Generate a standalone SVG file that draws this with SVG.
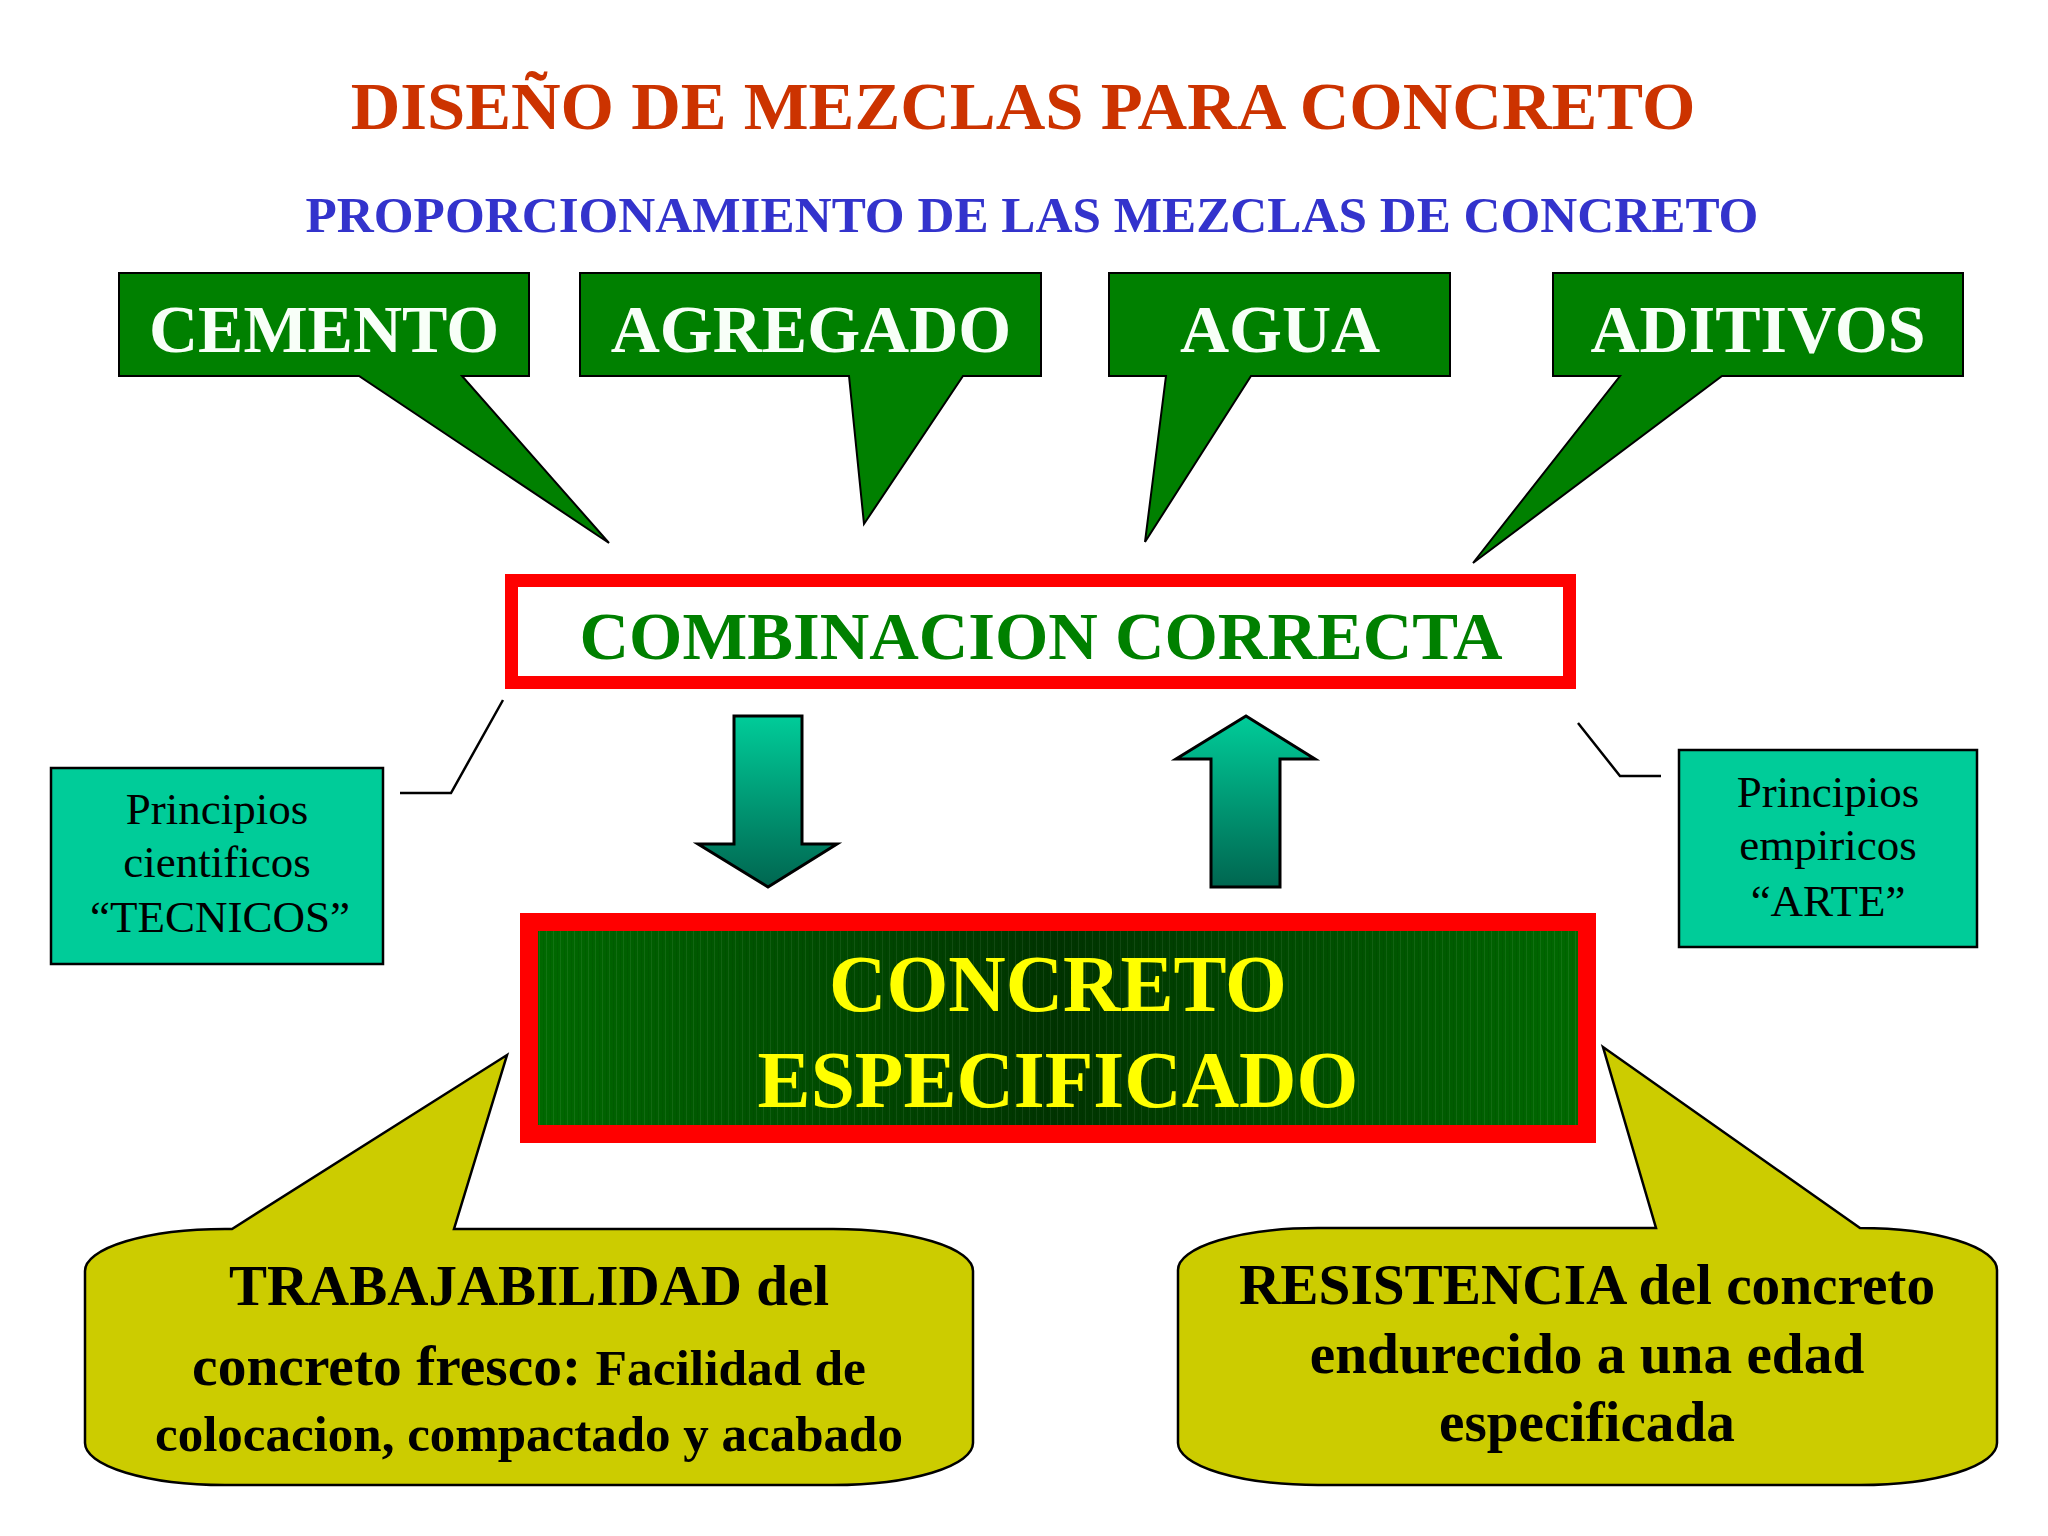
<svg xmlns="http://www.w3.org/2000/svg" width="2048" height="1536" viewBox="0 0 2048 1536">
<defs>
<style>
.serif{font-family:"Liberation Serif","Times New Roman",serif;}
.b{font-weight:bold;}
.gbox{fill:#008000;stroke:#000;stroke-width:2;stroke-linejoin:miter;}
.gtxt{fill:#f8fff8;font-size:68px;text-anchor:middle;}
.teal{fill:#00cc99;stroke:#000;stroke-width:2.5;}
.ttxt{fill:#000;font-size:45px;text-anchor:middle;}
.ybox{fill:#cccc00;stroke:#000;stroke-width:2.5;}
.ytxt{fill:#000;text-anchor:middle;}
.conn{fill:none;stroke:#000;stroke-width:2.5;}
.arrow{fill:url(#arrGrad);stroke:#000;stroke-width:3;stroke-linejoin:miter;}
</style>
<linearGradient id="arrGrad" x1="0" y1="0" x2="0" y2="1">
<stop offset="0" stop-color="#00cc99"/>
<stop offset="1" stop-color="#006650"/>
</linearGradient>
<linearGradient id="concGrad" x1="0" y1="0" x2="1" y2="0">
<stop offset="0" stop-color="#006a00"/>
<stop offset="0.5" stop-color="#003300"/>
<stop offset="1" stop-color="#006a00"/>
</linearGradient>
<pattern id="stripes" width="7" height="10" patternUnits="userSpaceOnUse">
<rect x="0" y="0" width="1" height="10" fill="#ffffff" fill-opacity="0.07"/>
<rect x="4" y="0" width="1" height="10" fill="#000000" fill-opacity="0.06"/>
</pattern>
</defs>
<rect width="2048" height="1536" fill="#ffffff"/>

<g id="title">
<text class="serif b" x="1023" y="129" font-size="68.7" fill="#cc3300" text-anchor="middle">DISEÑO DE MEZCLAS PARA CONCRETO</text>
<text class="serif b" x="1032" y="232" font-size="51.2" fill="#3333cc" text-anchor="middle">PROPORCIONAMIENTO DE LAS MEZCLAS DE CONCRETO</text>
</g>

<g id="connectors">
<polyline class="conn" points="503,700 451,793 400,793"/>
<polyline class="conn" points="1578,723 1620,776 1661,776"/>
</g>

<g id="cemento">
<path class="gbox" d="M119,273 H529 V376 H462 L609,543 L359,376 H119 Z"/>
<text class="serif b gtxt" x="324" y="352">CEMENTO</text>
</g>
<g id="agregado">
<path class="gbox" d="M580,273 H1041 V376 H963 L864,524 L849,376 H580 Z"/>
<text class="serif b gtxt" x="811" y="352">AGREGADO</text>
</g>
<g id="agua">
<path class="gbox" d="M1109,273 H1450 V376 H1251 L1145,542 L1166,376 H1109 Z"/>
<text class="serif b gtxt" x="1280" y="352">AGUA</text>
</g>
<g id="aditivos">
<path class="gbox" d="M1553,273 H1963 V376 H1722 L1473,563 L1620,376 H1553 Z"/>
<text class="serif b gtxt" x="1758" y="352">ADITIVOS</text>
</g>

<g id="combinacion">
<rect x="511.5" y="580.5" width="1058" height="102" fill="#ffffff" stroke="#ff0000" stroke-width="13"/>
<text class="serif b" x="1041" y="659" font-size="68.6" fill="#008000" text-anchor="middle">COMBINACION CORRECTA</text>
</g>

<g id="arrow-down">
<path class="arrow" d="M734,716 H802 V844 H837 L768,887 L698,844 H734 Z"/>
</g>
<g id="arrow-up">
<path class="arrow" d="M1246,716 L1315,759 H1280 V887 H1211 V759 H1176 Z"/>
</g>

<g id="principios-cientificos">
<rect class="teal" x="51" y="768" width="332" height="196"/>
<text class="serif ttxt" x="217" y="824">Principios</text>
<text class="serif ttxt" x="217" y="877">cientificos</text>
<text class="serif ttxt" x="220" y="932">“TECNICOS”</text>
</g>

<g id="principios-empiricos">
<rect class="teal" x="1679" y="750" width="298" height="197"/>
<text class="serif ttxt" x="1828" y="807">Principios</text>
<text class="serif ttxt" x="1828" y="860">empiricos</text>
<text class="serif ttxt" x="1828" y="916">“ARTE”</text>
</g>

<g id="concreto-especificado">
<rect x="529" y="922" width="1058" height="212" fill="url(#concGrad)"/>
<rect x="529" y="922" width="1058" height="212" fill="url(#stripes)"/>
<rect x="529" y="922" width="1058" height="212" fill="none" stroke="#ff0000" stroke-width="18"/>
<text class="serif b" x="1058" y="1011" font-size="79.5" fill="#ffff00" text-anchor="middle">CONCRETO</text>
<text class="serif b" x="1058" y="1107" font-size="79.5" fill="#ffff00" text-anchor="middle">ESPECIFICADO</text>
</g>

<g id="trabajabilidad">
<path class="ybox" d="M225,1229 L232,1229 L507,1055 L454,1229 L833,1229 A140 42 0 0 1 973,1271 L973,1443 A140 42 0 0 1 833,1485 L225,1485 A140 42 0 0 1 85,1443 L85,1271 A140 42 0 0 1 225,1229 Z"/>
<text class="serif b ytxt" x="529" y="1305" font-size="57">TRABAJABILIDAD del</text>
<text class="serif b ytxt" x="529" y="1385"><tspan font-size="57.5">concreto fresco:  </tspan><tspan font-size="51.5">Facilidad de</tspan></text>
<text class="serif b ytxt" x="529" y="1451" font-size="51">colocacion, compactado y acabado</text>
</g>

<g id="resistencia">
<path class="ybox" d="M1318,1228 L1656,1228 L1603,1047 L1860,1228 A137 42 0 0 1 1997,1270 L1997,1443 A137 42 0 0 1 1860,1485 L1318,1485 A140 42 0 0 1 1178,1443 L1178,1270 A140 42 0 0 1 1318,1228 Z"/>
<text class="serif b ytxt" x="1587" y="1304" font-size="57.3">RESISTENCIA del concreto</text>
<text class="serif b ytxt" x="1587" y="1373" font-size="57.3">endurecido a una edad</text>
<text class="serif b ytxt" x="1587" y="1441" font-size="57.3">especificada</text>
</g>
</svg>
